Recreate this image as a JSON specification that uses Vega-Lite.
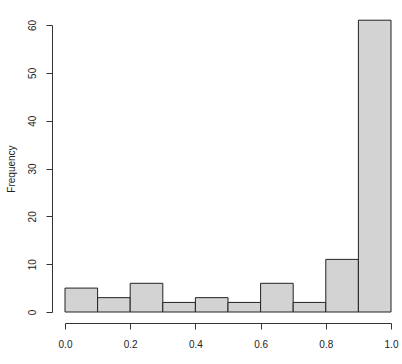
{
  "$schema": "https://vega.github.io/schema/vega-lite/v6.json",
  "autosize": {"type": "none"},
  "width": 326,
  "height": 287,
  "padding": {"left": 65, "top": 25, "right": 11, "bottom": 52},
  "background": "white",
  "config": {
    "view": {"stroke": null},
    "font": "Liberation Sans",
    "axis": {
      "domainColor": "#333333",
      "tickColor": "#333333",
      "labelColor": "#222222",
      "titleColor": "#222222",
      "labelFont": "Liberation Sans",
      "titleFont": "Liberation Sans",
      "labelFontSize": 10,
      "titleFontSize": 10,
      "titleFontWeight": "normal",
      "tickSize": 6,
      "grid": false
    }
  },
  "data": {
    "values": [
      {"bin_start": 0.0, "bin_end": 0.1, "count": 5},
      {"bin_start": 0.1, "bin_end": 0.2, "count": 3},
      {"bin_start": 0.2, "bin_end": 0.3, "count": 6},
      {"bin_start": 0.3, "bin_end": 0.4, "count": 2},
      {"bin_start": 0.4, "bin_end": 0.5, "count": 3},
      {"bin_start": 0.5, "bin_end": 0.6, "count": 2},
      {"bin_start": 0.6, "bin_end": 0.7, "count": 6},
      {"bin_start": 0.7, "bin_end": 0.8, "count": 2},
      {"bin_start": 0.8, "bin_end": 0.9, "count": 11},
      {"bin_start": 0.9, "bin_end": 1.0, "count": 61}
    ]
  },
  "mark": {"type": "rect", "fill": "#D3D3D3", "stroke": "#222222", "strokeWidth": 1, "clip": false},
  "encoding": {
    "x": {
      "field": "bin_start",
      "type": "quantitative",
      "scale": {"domain": [0, 1], "nice": false, "zero": false},
      "axis": {
        "title": null,
        "values": [0, 0.2, 0.4, 0.6, 0.8, 1.0],
        "format": ".1f",
        "offset": 11,
        "labelPadding": 10,
        "labelFlush": false
      }
    },
    "x2": {"field": "bin_end"},
    "y": {
      "field": "count",
      "type": "quantitative",
      "scale": {"domain": [0, 60], "nice": false, "clamp": false},
      "axis": {
        "title": "Frequency",
        "values": [0, 10, 20, 30, 40, 50, 60],
        "offset": 13,
        "labelAngle": -90,
        "labelAlign": "center",
        "labelBaseline": "bottom",
        "labelPadding": 9,
        "titlePadding": 11,
        "labelFlush": false
      }
    },
    "y2": {"datum": 0}
  }
}
